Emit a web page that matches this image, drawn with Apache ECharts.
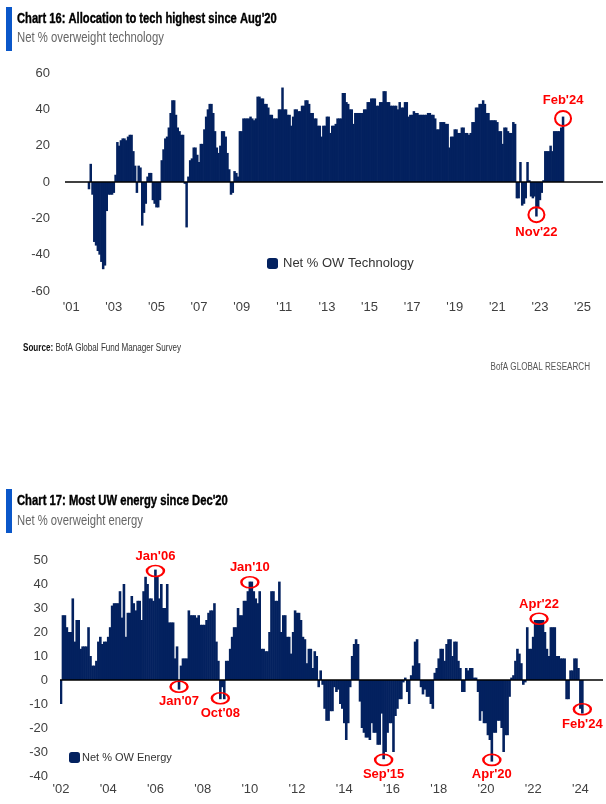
<!DOCTYPE html>
<html><head><meta charset="utf-8">
<script src="https://cdn.jsdelivr.net/npm/echarts@6/dist/echarts.min.js"></script>
<style>html,body{margin:0;padding:0;background:#fff}#c{width:606px;height:804px}</style>
</head><body><div id="c"></div>
<script>
// ---------- DATA ----------
// Chart 16: Net % overweight technology (monthly, first value = Nov 2001)
const techStart = '2001-11';
const techValues = [
  -4,10,                                        // 2001 Nov-Dec
  -7,-33,-35,-38,-40,-44,-48,-46,-16,-7,-7,-7,  // 2002
  -6,4,22,20,23,24,24,23,25,26,26,17,           // 2003
  9,-6,9,8,-24,-17,-12,3,5,5,-10,-12,           // 2004
  -14,-14,-10,12,18,24,25,30,38,45,45,37,       // 2005
  30,28,26,26,-1,-25,3,12,13,19,19,15,          // 2006
  11,21,21,29,36,40,43,43,38,28,19,16,          // 2007
  20,28,28,25,16,7,-7,-6,6,5,3,28,              // 2008
  28,35,35,35,35,36,35,34,35,47,47,46,          // 2009
  46,43,43,41,37,37,35,35,35,40,40,52,          // 2010
  40,40,37,37,31,36,40,40,39,39,42,42,          // 2011
  45,45,43,38,38,35,35,31,31,25,31,31,          // 2012
  36,36,27,31,31,32,35,35,35,49,49,44,          // 2013
  43,40,40,32,38,38,38,38,38,40,40,44,          // 2014
  44,46,46,46,42,42,44,44,50,50,44,44,          // 2015
  42,42,42,42,40,44,41,41,44,44,36,37,          // 2016
  37,39,38,38,37,37,37,37,37,38,38,37,          // 2017
  37,35,29,29,33,33,33,32,32,19,25,25,          // 2018
  29,29,27,27,30,30,27,27,26,27,33,33,          // 2019
  41,41,43,43,45,43,38,38,34,34,34,34,          // 2020
  33,28,28,21,30,30,28,27,27,33,32,-9,          // 2021
  -9,11,-13,-12,-9,11,1,-8,-9,-8,-19,-14,       // 2022
  -10,-6,1,17,17,17,20,17,28,28,28,28,          // 2023
  30,36                                         // 2024 Jan-Feb
];
// Chart 17: Net % overweight energy (monthly, first value = Jan 2002)
const energyStart = '2002-01';
const energyValues = [
  -10,27,27,22,20,20,34,16,25,25,13,14,         // 2002
  14,14,22,10,6,6,8,16,18,15,16,16,             // 2003
  18,22,31,32,32,32,37,26,40,18,28,28,          // 2004
  35,32,29,33,33,25,37,43,40,34,34,33,          // 2005
  46,43,34,40,30,30,40,24,24,24,9,14,           // 2006
  -4,6,9,9,9,29,27,27,27,26,27,23,              // 2007
  23,23,25,28,29,29,32,16,8,-8,-3,-8,           // 2008
  8,8,13,18,22,22,30,27,27,33,33,37,            // 2009
  41,41,37,34,32,37,13,13,12,12,20,37,          // 2010
  37,33,33,41,20,27,27,18,18,11,20,29,          // 2011
  28,28,25,18,17,7,13,13,5,12,10,-3,            // 2012
  4,-2,-12,-17,-17,-13,-13,-3,-5,-4,-10,-12,    // 2013
  -18,-25,-18,-3,10,15,17,15,-9,-20,-22,-24,    // 2014
  -24,-25,-18,-22,-22,-27,-27,-14,-33,-30,-22,-18, // 2015
  -18,-30,-15,-12,-8,-8,-1,1,-5,-10,2,6,        // 2016
  16,17,7,-3,-6,-4,-7,-7,-10,-12,3,5,           // 2017
  9,13,13,8,15,17,17,10,16,16,8,5,              // 2018
  -5,-5,5,4,5,5,1,1,-5,-17,-13,-18,             // 2019
  -18,-23,-25,-34,-22,-22,-17,-17,-20,-30,-23,-23, // 2020
  -7,1,2,8,13,11,7,-2,-1,22,13,13,              // 2021
  18,25,25,25,25,25,20,13,10,22,22,22,          // 2022
  10,10,9,9,9,-8,-8,4,4,9,9,5,                  // 2023
  -12,-14                                       // 2024 Jan-Feb
];
// axis ranges and ticks
const techAxisRange = ['2000-10', '2025-12'];
const techTickYears = [2001,2003,2005,2007,2009,2011,2013,2015,2017,2019,2021,2023,2025];
const techY = {min: -60, max: 60, interval: 20};
const energyAxisRange = ['2002-01', '2024-12'];
const energyTickYears = [2002,2004,2006,2008,2010,2012,2014,2016,2018,2020,2022,2024];
const energyY = {min: -40, max: 50, interval: 10};
// annotations: [label, month, value(circle centre), label side]
const techNotes = [["Feb'24", '2024-02', 35, 'top'], ["Nov'22", '2022-11', -18, 'bottom']];
const energyNotes = [
  ["Jan'06", '2006-01', 45.4, 'top'], ["Jan'07", '2007-01', -2.8, 'bottom'],
  ["Oct'08", '2008-10', -7.6, 'bottom'], ["Jan'10", '2010-01', 40.7, 'top'],
  ["Sep'15", '2015-09', -33.3, 'bottom'], ["Apr'20", '2020-04', -33.3, 'bottom'],
  ["Apr'22", '2022-04', 25.5, 'top'], ["Feb'24", '2024-02', -12.2, 'bottom']
];

// ---------- helpers ----------
function mIdx(s){const p=s.split('-');return (+p[0])*12+(+p[1])-1;}
function mStr(k){const y=Math.floor(k/12),m=k%12+1;return y+'-'+(m<10?'0':'')+m;}
function monthList(a,b){const out=[];for(let k=mIdx(a);k<=mIdx(b);k++)out.push(mStr(k));return out;}
function align(cats,start,vals){const s=mIdx(start);return cats.map(c=>{const k=mIdx(c)-s;return (k>=0&&k<vals.length)?vals[k]:null;});}

const techCats = monthList(techAxisRange[0], techAxisRange[1]);
const energyCats = monthList(energyAxisRange[0], energyAxisRange[1]);

const NAVY = '#03215f';
const RED = '#ff0000';
const AX_FONT = '"Liberation Sans", Arial, sans-serif';

function notes(list, size, dist){
  return list.map(n=>({
    coord:[n[1], n[2]],
    symbol:'path://M0,50A50,50 0 1,0 100,50A50,50 0 1,0 0,50Z',
    symbolSize:size,
    itemStyle:{color:'rgba(0,0,0,0)', borderColor:RED, borderWidth:2},
    label:{show:true, formatter:n[0], position:n[3], distance:dist, color:RED,
      fontWeight:'bold', fontSize:13, fontFamily:AX_FONT}
  }));
}
function xAxisCfg(cats, years, grid, margin){
  return {type:'category', gridIndex:grid, data:cats, boundaryGap:true,
    axisLine:{show:false}, axisTick:{show:false}, splitLine:{show:false},
    axisLabel:{interval:(i,v)=>v.slice(5)==='01' && years.indexOf(+v.slice(0,4))>=0,
      formatter:v=>"'"+v.slice(2,4), color:'#404040', fontSize:13, fontFamily:AX_FONT, margin:margin}};
}
function yAxisCfg(r, grid, margin){
  return {type:'value', gridIndex:grid, min:r.min, max:r.max, interval:r.interval,
    axisLine:{show:false}, axisTick:{show:false}, splitLine:{show:false},
    axisLabel:{color:'#404040', fontSize:13, fontFamily:AX_FONT, margin:margin}};
}
const zeroLine = {silent:true, symbol:'none', label:{show:false},
  lineStyle:{color:'#000', width:1.5, type:'solid'}, data:[{yAxis:0}]};
const barStyle = {color:NAVY};

const chart = echarts.init(document.getElementById('c'), null, {renderer:'canvas'});
chart.setOption({
  animation:false,
  backgroundColor:'#fff',
  grid:[
    {left:65, top:73, width:538, height:218},
    {left:60, top:560, width:543, height:216}
  ],
  xAxis:[xAxisCfg(techCats, techTickYears, 0, 10), xAxisCfg(energyCats, energyTickYears, 1, 7)],
  yAxis:[yAxisCfg(techY, 0, 15), yAxisCfg(energyY, 1, 12)],
  legend:[
    {data:['Net % OW Technology'], left:267, top:257, padding:0, itemWidth:11, itemHeight:11,
      icon:'roundRect', textStyle:{fontFamily:AX_FONT, fontSize:13, color:'#333'}},
    {data:['Net % OW Energy'], left:69, top:752, padding:0, itemWidth:11, itemHeight:11,
      icon:'roundRect', textStyle:{fontFamily:AX_FONT, fontSize:11, color:'#333', padding:[0,0,0,-3]}}
  ],
  series:[
    {name:'Net % OW Technology', type:'bar', xAxisIndex:0, yAxisIndex:0,
      data:align(techCats, techStart, techValues), barWidth:2.5, itemStyle:barStyle,
      markLine:zeroLine,
      markPoint:{silent:true, data:notes(techNotes, [16,15], 3)}},
    {name:'Net % OW Energy', type:'bar', xAxisIndex:1, yAxisIndex:1,
      data:align(energyCats, energyStart, energyValues), barWidth:2.6, itemStyle:barStyle,
      markLine:zeroLine,
      markPoint:{silent:true, data:notes(energyNotes, [17,11], 2)}}
  ],
  graphic:[
    {type:'rect', shape:{x:6, y:7, width:6, height:44}, style:{fill:'#0a57c9'}},
    {type:'text', x:17, y:19, scaleX:0.745, style:{text:"Chart 16: Allocation to tech highest since Aug'20",
      font:'bold 15px '+AX_FONT, fill:'#000', stroke:'#000', lineWidth:0.4, verticalAlign:'middle'}},
    {type:'text', x:17, y:38.5, scaleX:0.81, style:{text:'Net % overweight technology',
      font:'14px '+AX_FONT, fill:'#666', verticalAlign:'middle'}},
    {type:'text', x:23, y:348, scaleX:0.81, style:{text:'{b|Source:} BofA Global Fund Manager Survey',
      font:'10px '+AX_FONT, fill:'#333', verticalAlign:'middle',
      rich:{b:{fontWeight:'bold', fontSize:10, fontFamily:AX_FONT, fill:'#111'}}}},
    {type:'text', x:590, y:367, scaleX:0.81, style:{text:'BofA GLOBAL RESEARCH',
      font:'10px '+AX_FONT, fill:'#555', align:'right', verticalAlign:'middle'}},
    {type:'rect', shape:{x:6, y:489, width:6, height:44}, style:{fill:'#0a57c9'}},
    {type:'text', x:17, y:500.5, scaleX:0.75, style:{text:"Chart 17: Most UW energy since Dec'20",
      font:'bold 15px '+AX_FONT, fill:'#000', stroke:'#000', lineWidth:0.4, verticalAlign:'middle'}},
    {type:'text', x:17, y:520.8, scaleX:0.805, style:{text:'Net % overweight energy',
      font:'14px '+AX_FONT, fill:'#666', verticalAlign:'middle'}}
  ]
});
</script></body></html>
